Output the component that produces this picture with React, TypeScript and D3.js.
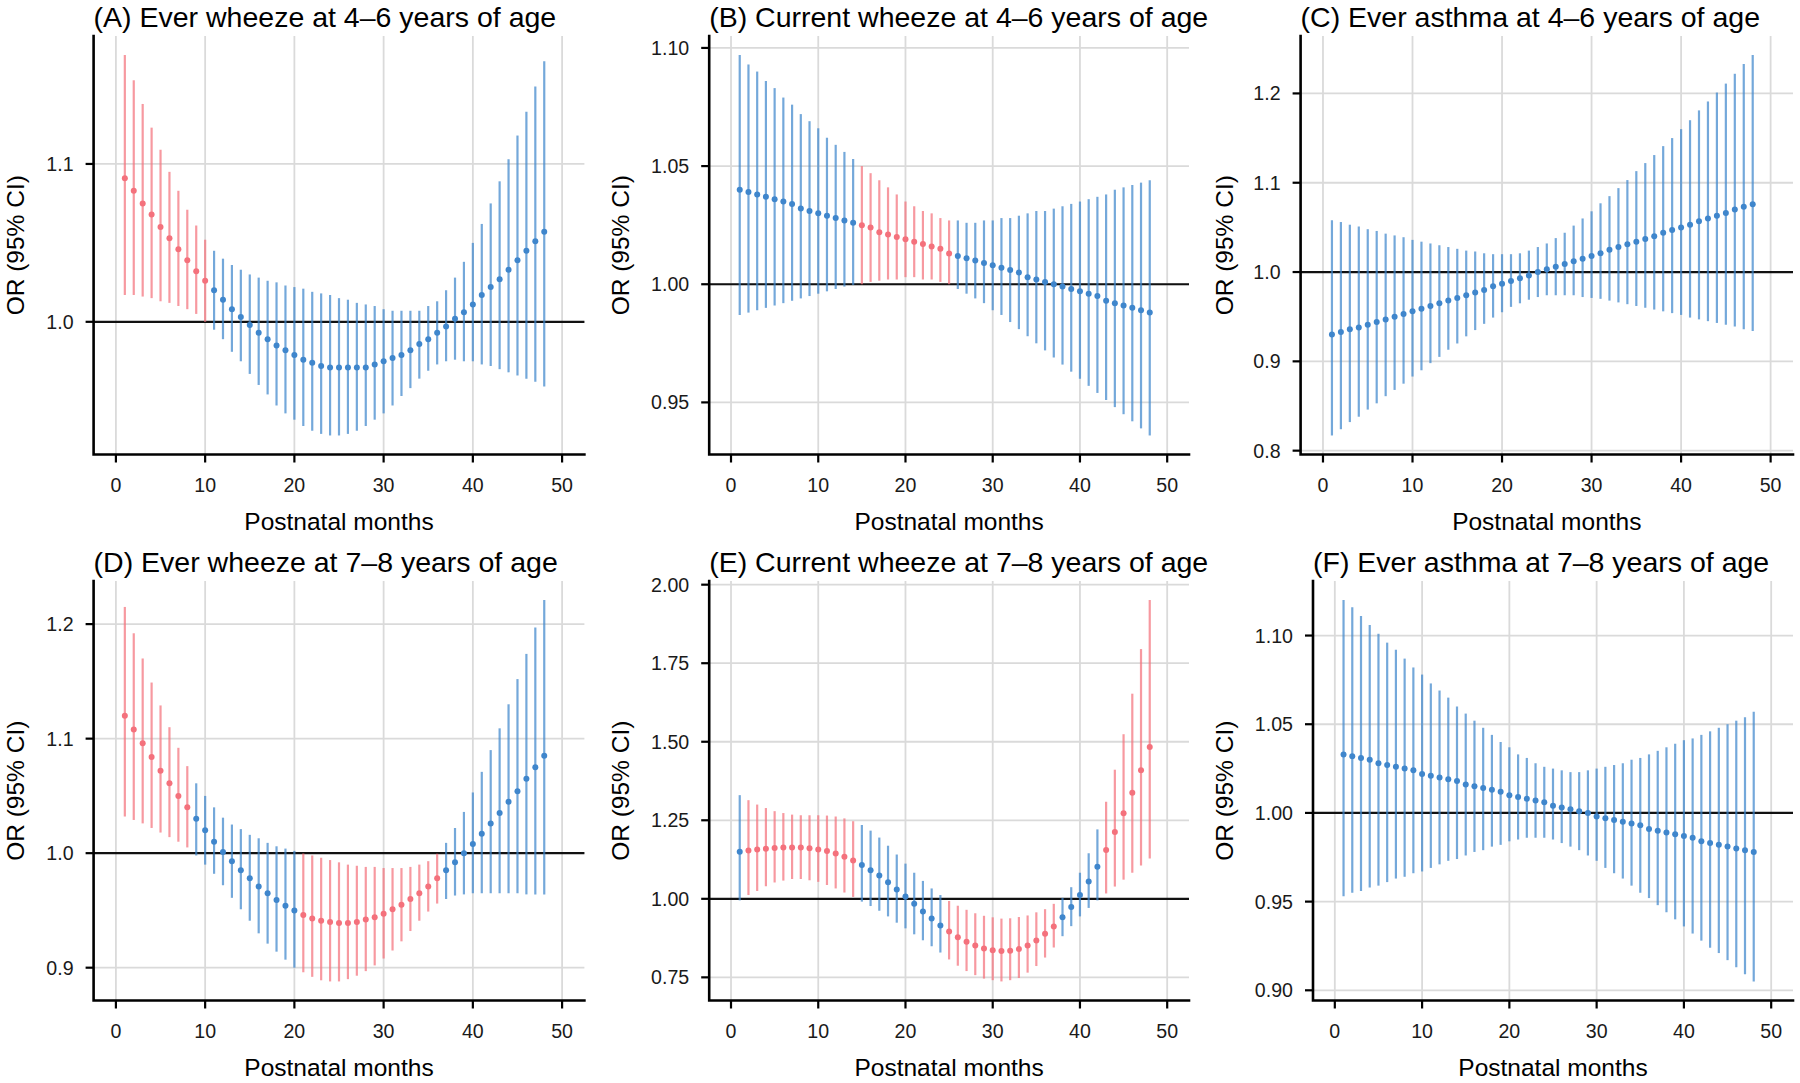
import React from 'react';
import * as d3 from 'd3';

// ---------- data ----------
const months = [1,2,3,4,5,6,7,8,9,10,11,12,13,14,15,16,17,18,19,20,21,22,23,24,25,26,27,28,29,30,31,32,33,34,35,36,37,38,39,40,41,42,43,44,45,46,47,48];
const xTicks = [0, 10, 20, 30, 40, 50];

const titles = [
  '(A) Ever wheeze at 4–6 years of age',
  '(B) Current wheeze at 4–6 years of age',
  '(C) Ever asthma at 4–6 years of age',
  '(D) Ever wheeze at 7–8 years of age',
  '(E) Current wheeze at 7–8 years of age',
  '(F) Ever asthma at 7–8 years of age',
];

// (A)
const aEst = [1.091,1.083,1.075,1.068,1.060,1.053,1.046,1.039,1.032,1.026,1.020,1.014,1.008,1.003,0.998,0.993,0.989,0.985,0.982,0.979,0.976,0.974,0.972,0.971,0.971,0.971,0.971,0.971,0.973,0.975,0.977,0.979,0.982,0.986,0.989,0.993,0.997,1.002,1.006,1.011,1.017,1.022,1.027,1.033,1.039,1.045,1.051,1.057];
const aHi = [1.169,1.153,1.138,1.123,1.109,1.095,1.083,1.071,1.061,1.052,1.045,1.040,1.036,1.033,1.030,1.028,1.026,1.025,1.023,1.022,1.021,1.019,1.018,1.017,1.015,1.014,1.012,1.011,1.010,1.008,1.007,1.007,1.007,1.007,1.010,1.013,1.020,1.028,1.038,1.050,1.062,1.075,1.089,1.103,1.118,1.133,1.149,1.165];
const aLo = [1.017,1.017,1.016,1.015,1.013,1.012,1.010,1.008,1.005,1.000,0.995,0.989,0.981,0.975,0.967,0.960,0.954,0.947,0.942,0.938,0.934,0.931,0.929,0.928,0.928,0.929,0.931,0.934,0.938,0.942,0.947,0.953,0.958,0.964,0.969,0.973,0.975,0.976,0.975,0.975,0.973,0.972,0.970,0.968,0.966,0.964,0.962,0.959];
const aSig = [1,2,3,4,5,6,7,8,9,10];
const aTicks = [1.0, 1.1];

// (B)
const bEst = [1.040,1.039,1.038,1.037,1.036,1.035,1.034,1.032,1.031,1.030,1.029,1.028,1.027,1.026,1.025,1.024,1.022,1.021,1.020,1.019,1.018,1.017,1.016,1.015,1.013,1.012,1.011,1.010,1.009,1.008,1.007,1.006,1.005,1.003,1.002,1.001,1.000,0.999,0.998,0.997,0.996,0.995,0.993,0.992,0.991,0.990,0.989,0.988];
const bHi = [1.097,1.093,1.090,1.086,1.083,1.079,1.076,1.072,1.069,1.066,1.062,1.059,1.056,1.053,1.050,1.047,1.044,1.041,1.038,1.035,1.033,1.031,1.030,1.028,1.027,1.027,1.026,1.026,1.027,1.027,1.028,1.028,1.029,1.030,1.031,1.031,1.032,1.033,1.034,1.035,1.036,1.037,1.038,1.040,1.041,1.042,1.043,1.044];
const bLo = [0.987,0.988,0.989,0.990,0.991,0.992,0.993,0.994,0.995,0.996,0.997,0.998,0.999,0.9997,1.000,1.001,1.0015,1.002,1.002,1.003,1.003,1.002,1.002,1.001,1.000,0.998,0.996,0.994,0.992,0.989,0.987,0.984,0.981,0.978,0.975,0.972,0.969,0.966,0.963,0.960,0.957,0.954,0.951,0.948,0.945,0.942,0.939,0.936];
const bSig = [15,16,17,18,19,20,21,22,23,24,25];
const bTicks = [0.95, 1.0, 1.05, 1.1];

// (C)
const cEst = [0.930,0.933,0.936,0.938,0.941,0.944,0.947,0.950,0.953,0.956,0.959,0.962,0.965,0.968,0.971,0.974,0.977,0.980,0.984,0.987,0.990,0.993,0.996,1.000,1.003,1.006,1.009,1.012,1.015,1.018,1.021,1.025,1.028,1.031,1.034,1.037,1.040,1.044,1.047,1.050,1.053,1.057,1.060,1.063,1.066,1.070,1.073,1.076];
const cHi = [1.058,1.056,1.053,1.051,1.048,1.046,1.043,1.041,1.039,1.036,1.034,1.032,1.030,1.028,1.026,1.024,1.023,1.021,1.020,1.020,1.020,1.021,1.024,1.028,1.032,1.038,1.044,1.052,1.060,1.068,1.077,1.085,1.094,1.103,1.113,1.122,1.131,1.141,1.150,1.160,1.170,1.181,1.191,1.201,1.211,1.222,1.233,1.243];
const cLo = [0.817,0.824,0.832,0.838,0.846,0.853,0.861,0.868,0.875,0.883,0.890,0.898,0.905,0.913,0.920,0.928,0.935,0.942,0.949,0.955,0.961,0.965,0.969,0.972,0.974,0.974,0.974,0.974,0.972,0.971,0.970,0.968,0.966,0.964,0.962,0.960,0.958,0.956,0.954,0.952,0.949,0.947,0.945,0.943,0.941,0.939,0.936,0.934];
const cSig: number[] = [];
const cTicks = [0.8, 0.9, 1.0, 1.1, 1.2];

// (D)
const dEst = [1.120,1.108,1.096,1.084,1.072,1.061,1.050,1.040,1.030,1.020,1.010,1.001,0.993,0.985,0.978,0.971,0.965,0.959,0.954,0.950,0.946,0.943,0.941,0.940,0.939,0.939,0.940,0.942,0.944,0.947,0.951,0.955,0.960,0.965,0.971,0.978,0.985,0.992,1.000,1.008,1.017,1.026,1.035,1.045,1.054,1.065,1.075,1.085];
const dHi = [1.215,1.192,1.170,1.149,1.129,1.110,1.092,1.076,1.061,1.050,1.040,1.031,1.025,1.021,1.016,1.013,1.009,1.006,1.004,1.002,0.9997,0.998,0.996,0.994,0.992,0.990,0.989,0.988,0.988,0.987,0.987,0.987,0.988,0.990,0.993,0.9995,1.009,1.022,1.036,1.053,1.071,1.090,1.109,1.130,1.152,1.174,1.197,1.221];
const dLo = [1.032,1.029,1.026,1.022,1.018,1.014,1.010,1.005,0.998,0.990,0.982,0.972,0.961,0.951,0.941,0.930,0.921,0.914,0.907,0.900,0.896,0.892,0.889,0.888,0.888,0.890,0.893,0.897,0.902,0.908,0.915,0.923,0.932,0.941,0.949,0.956,0.960,0.963,0.964,0.965,0.965,0.965,0.965,0.965,0.965,0.964,0.964,0.964];
const dSig = [1,2,3,4,5,6,7,8,21,22,23,24,25,26,27,28,29,30,31,32,33,34,35,36];
const dTicks = [0.9, 1.0, 1.1, 1.2];

// (E)
const eEst = [1.150,1.154,1.157,1.159,1.162,1.163,1.163,1.163,1.161,1.157,1.152,1.144,1.134,1.122,1.108,1.091,1.074,1.053,1.030,1.007,0.984,0.960,0.937,0.915,0.896,0.878,0.863,0.851,0.842,0.836,0.834,0.835,0.840,0.851,0.867,0.889,0.912,0.941,0.974,1.012,1.055,1.102,1.155,1.213,1.272,1.338,1.409,1.483];
const eHi = [1.330,1.314,1.300,1.289,1.279,1.273,1.268,1.266,1.266,1.266,1.265,1.262,1.256,1.247,1.235,1.217,1.195,1.169,1.141,1.112,1.083,1.057,1.033,1.012,0.993,0.978,0.965,0.954,0.946,0.941,0.937,0.938,0.942,0.947,0.957,0.967,0.984,1.003,1.037,1.083,1.145,1.221,1.309,1.411,1.524,1.653,1.795,1.951];
const eLo = [0.995,1.012,1.025,1.040,1.052,1.058,1.063,1.063,1.059,1.054,1.044,1.033,1.020,1.006,0.991,0.977,0.962,0.944,0.924,0.906,0.887,0.868,0.849,0.829,0.807,0.787,0.770,0.757,0.746,0.741,0.737,0.741,0.748,0.765,0.786,0.813,0.845,0.881,0.913,0.944,0.971,0.995,1.017,1.039,1.061,1.083,1.106,1.128];
const eSig = [2,3,4,5,6,7,8,9,10,11,12,13,14,25,26,27,28,29,30,31,32,33,34,35,36,37,43,44,45,46,47,48];
const eTicks = [0.75, 1.0, 1.25, 1.5, 1.75, 2.0];

// (F)
const fEst = [1.033,1.032,1.031,1.030,1.028,1.027,1.026,1.025,1.024,1.022,1.021,1.020,1.019,1.018,1.016,1.015,1.014,1.013,1.012,1.010,1.009,1.008,1.007,1.006,1.004,1.003,1.002,1.001,1.000,0.998,0.997,0.996,0.995,0.994,0.993,0.991,0.990,0.989,0.988,0.987,0.986,0.984,0.983,0.982,0.981,0.980,0.979,0.978];
const fHi = [1.120,1.116,1.111,1.106,1.101,1.096,1.092,1.087,1.082,1.078,1.073,1.069,1.065,1.060,1.056,1.052,1.048,1.044,1.040,1.037,1.033,1.031,1.028,1.026,1.025,1.024,1.023,1.023,1.024,1.025,1.026,1.027,1.028,1.030,1.031,1.033,1.035,1.037,1.039,1.041,1.042,1.044,1.046,1.048,1.050,1.052,1.054,1.057];
const fLo = [0.953,0.955,0.956,0.958,0.959,0.961,0.963,0.964,0.966,0.967,0.969,0.971,0.973,0.974,0.976,0.978,0.979,0.981,0.982,0.984,0.985,0.986,0.986,0.986,0.985,0.983,0.981,0.979,0.976,0.973,0.969,0.966,0.963,0.959,0.955,0.952,0.948,0.944,0.940,0.936,0.932,0.928,0.924,0.921,0.917,0.913,0.909,0.905];
const fSig: number[] = [];
const fTicks = [0.9, 0.95, 1.0, 1.05, 1.1];

// ---------- layout / style ----------
const W = 1800;
const H = 1083;
const FONT = '"Liberation Sans", Arial, Helvetica, sans-serif';
const RED = '#F4717C';
const BLUE = '#3F86CC';
const GRID = '#DADADA';

const rows = [
  { top: 36, bottom: 454.5 },
  { top: 581, bottom: 1000.5 },
];
const cols = [
  { start: 0, left3: 93.6, left4: 104.7, right: 584.4 },
  { start: 604.5, left3: 698.1, left4: 709.2, right: 1189 },
  { start: 1209, left3: 1300.6, left4: 1313, right: 1793 },
];

const panels = [
  { title: titles[0], est: aEst, lo: aLo, hi: aHi, sig: aSig, ticks: aTicks, fmt: '.1f', row: 0, col: 0 },
  { title: titles[1], est: bEst, lo: bLo, hi: bHi, sig: bSig, ticks: bTicks, fmt: '.2f', row: 0, col: 1 },
  { title: titles[2], est: cEst, lo: cLo, hi: cHi, sig: cSig, ticks: cTicks, fmt: '.1f', row: 0, col: 2 },
  { title: titles[3], est: dEst, lo: dLo, hi: dHi, sig: dSig, ticks: dTicks, fmt: '.1f', row: 1, col: 0 },
  { title: titles[4], est: eEst, lo: eLo, hi: eHi, sig: eSig, ticks: eTicks, fmt: '.2f', row: 1, col: 1 },
  { title: titles[5], est: fEst, lo: fLo, hi: fHi, sig: fSig, ticks: fTicks, fmt: '.2f', row: 1, col: 2 },
];

function Panel({ p }: { p: typeof panels[number] }) {
  const r = rows[p.row];
  const c = cols[p.col];
  const left = p.fmt === '.2f' ? c.left4 : c.left3;
  const right = c.right;
  const { top, bottom } = r;

  const x = d3.scaleLinear().domain([-2.5, 52.5]).range([left, right]);
  const ext = d3.extent([...p.lo, ...p.hi]) as [number, number];
  const pad = (ext[1] - ext[0]) * 0.05;
  const y = d3.scaleLinear().domain([ext[0] - pad, ext[1] + pad]).range([bottom, top]);
  const fmt = d3.format(p.fmt);
  const sigSet = new Set(p.sig);

  const axisW = 2.6;
  const tickLen = 8;

  return (
    <g>
      {/* grid */}
      {xTicks.map((t) => (
        <line key={'gx' + t} x1={x(t)} x2={x(t)} y1={top} y2={bottom} stroke={GRID} strokeWidth={1.8} />
      ))}
      {p.ticks.map((t) => (
        <line key={'gy' + t} x1={left} x2={right} y1={y(t)} y2={y(t)} stroke={GRID} strokeWidth={1.8} />
      ))}
      {/* reference line */}
      <line x1={left} x2={right} y1={y(1)} y2={y(1)} stroke="#111" strokeWidth={2.2} />
      {/* error bars */}
      {months.map((m, i) => (
        <line
          key={'b' + m}
          x1={x(m)}
          x2={x(m)}
          y1={y(p.lo[i])}
          y2={y(p.hi[i])}
          stroke={sigSet.has(m) ? RED : BLUE}
          strokeOpacity={0.72}
          strokeWidth={2.2}
        />
      ))}
      {/* points */}
      {months.map((m, i) => (
        <circle key={'p' + m} cx={x(m)} cy={y(p.est[i])} r={3} fill={sigSet.has(m) ? RED : BLUE} />
      ))}
      {/* axes */}
      <path
        d={`M${left},${top} L${left},${bottom} L${right},${bottom}`}
        fill="none"
        stroke="#000"
        strokeWidth={axisW}
        strokeLinecap="square"
        strokeLinejoin="miter"
      />
      {p.ticks.map((t) => (
        <g key={'ty' + t}>
          <line x1={left - tickLen} x2={left} y1={y(t)} y2={y(t)} stroke="#000" strokeWidth={2.2} />
          <text
            x={left - 20}
            y={y(t)}
            dy="0.36em"
            textAnchor="end"
            fontFamily={FONT}
            fontSize={19.6}
            fill="#1a1a1a"
          >
            {fmt(t)}
          </text>
        </g>
      ))}
      {xTicks.map((t) => (
        <g key={'tx' + t}>
          <line x1={x(t)} x2={x(t)} y1={bottom} y2={bottom + tickLen} stroke="#000" strokeWidth={2.2} />
          <text x={x(t)} y={bottom + 37} textAnchor="middle" fontFamily={FONT} fontSize={19.6} fill="#1a1a1a">
            {t}
          </text>
        </g>
      ))}
      {/* axis titles */}
      <text x={(left + right) / 2} y={bottom + 75.5} textAnchor="middle" fontFamily={FONT} fontSize={24.5} fill="#000">
        Postnatal months
      </text>
      <text
        transform={`translate(${c.start + 24},${(top + bottom) / 2}) rotate(-90)`}
        textAnchor="middle"
        fontFamily={FONT}
        fontSize={24.5}
        fill="#000"
      >
        OR (95% CI)
      </text>
      {/* title */}
      <text x={left} y={top - 9.5} fontFamily={FONT} fontSize={28.5} fill="#000">
        {p.title}
      </text>
    </g>
  );
}

export default function App() {
  return (
    <svg
      width={W}
      height={H}
      viewBox={`0 0 ${W} ${H}`}
      style={{ position: 'absolute', left: 0, top: 0, display: 'block', background: '#fff' }}
    >
      <rect x={0} y={0} width={W} height={H} fill="#fff" />
      {panels.map((p, i) => (
        <Panel key={i} p={p} />
      ))}
    </svg>
  );
}
